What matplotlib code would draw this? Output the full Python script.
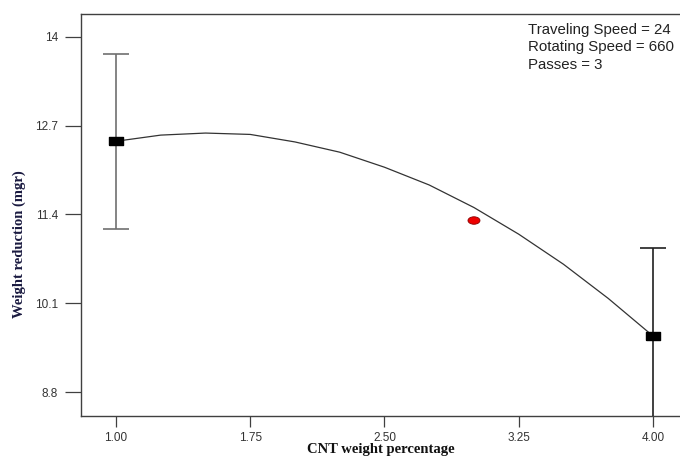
import matplotlib.pyplot as plt
from matplotlib.patches import Ellipse

# design points (mean +/- error bar half-width)
design_x = [1.00, 4.00]
design_y = [12.47, 9.62]
design_err = [1.28, 1.29]

# actual run point
actual_x = [3.00]
actual_y = [11.31]

# fitted response curve
curve_x = [1.00, 1.25, 1.50, 1.75, 2.00, 2.25, 2.50, 2.75, 3.00, 3.25, 3.50, 3.75, 4.00]
curve_y = [12.47, 12.56, 12.59, 12.57, 12.46, 12.31, 12.09, 11.83, 11.50, 11.11, 10.67, 10.17, 9.62]

x_ticks = [1.00, 1.75, 2.50, 3.25, 4.00]
x_tick_labels = ['1.00', '1.75', '2.50', '3.25', '4.00']
y_ticks = [8.8, 10.1, 11.4, 12.7, 14]
y_tick_labels = ['8.8', '10.1', '11.4', '12.7', '14']

info_lines = ['Traveling Speed = 24', 'Rotating Speed = 660', 'Passes = 3']

fig = plt.figure(figsize=(6.8, 4.57), dpi=100)
ax = fig.add_axes([0.1187, 0.0897, 0.8813, 0.8796])

ax.plot(curve_x, curve_y, color='#333333', lw=0.9, zorder=2)

err_colors = ['#707070', '#202020']
for xi, yi, ei, c in zip(design_x, design_y, design_err, err_colors):
    ax.errorbar([xi], [yi], yerr=[ei], fmt='none', ecolor=c, elinewidth=1.2,
                capsize=9.5, capthick=1.2, zorder=3)

# wide black rectangles for the design points
rect = [(-1.65, -1), (1.65, -1), (1.65, 1), (-1.65, 1), (-1.65, -1)]
ax.plot(design_x, design_y, linestyle='none', marker=rect, markersize=10,
        color='black', zorder=4)

# red oval for the actual point (size in pixels converted to data units)
for xi, yi in zip(actual_x, actual_y):
    ax.add_patch(Ellipse((xi, yi), width=12 / 179.0, height=7.5 / 68.33,
                         facecolor='#ee0000', edgecolor='#880000', lw=0.6, zorder=5))

ax.set_xlim(0.803, 4.151)
ax.set_ylim(8.449, 14.332)
ax.set_xticks(x_ticks)
ax.set_xticklabels(x_tick_labels)
ax.set_yticks(y_ticks)
ax.set_yticklabels(y_tick_labels)

for lab in ax.get_xticklabels() + ax.get_yticklabels():
    lab.set_fontfamily('Liberation Sans')
    lab.set_fontsize(8.5)
    lab.set_color('#333333')

ax.tick_params(axis='y', direction='out', length=11.5, width=0.9, color='#404040', pad=5)
ax.tick_params(axis='x', direction='out', length=8, width=0.9, color='#404040', pad=3.5)

for side in ['left', 'bottom', 'top']:
    ax.spines[side].set_color('#404040')
    ax.spines[side].set_linewidth(1.0)
ax.spines['right'].set_visible(False)

ax.set_xlabel('CNT weight percentage', fontfamily='Liberation Serif',
              fontweight='bold', fontsize=10.5, color='#111111')
ax.xaxis.set_label_coords(0.5, -0.068)
ax.set_ylabel('Weight reduction (mgr)', fontfamily='Liberation Serif',
              fontweight='bold', fontsize=10.5, color='#1a1a40')
ax.yaxis.set_label_coords(-0.092, 0.4266)

fig.text(528 / 680, 1 - 23 / 457, '\n'.join(info_lines),
         fontfamily='Liberation Sans', fontsize=10.8, color='#222222',
         va='top', ha='left', linespacing=1.3)

fig.savefig('out.png', dpi=100)
